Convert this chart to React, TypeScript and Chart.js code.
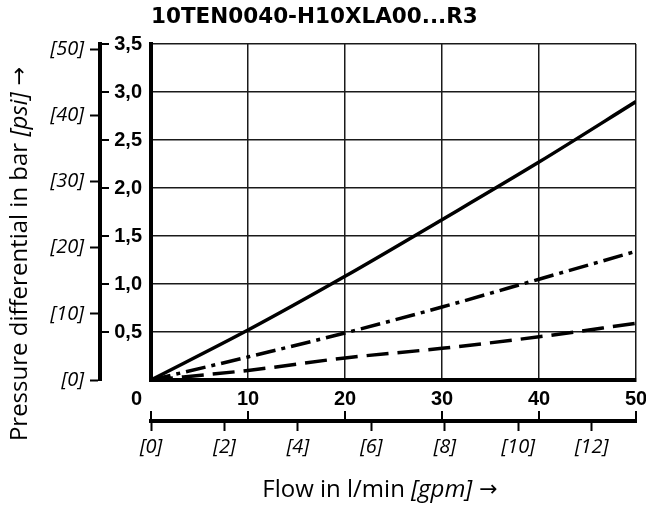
import React, { useEffect, useRef } from 'react';
import { Chart, registerables } from 'chart.js';

Chart.register(...registerables);

// ---- data ----
const CHART_TITLE = '10TEN0040-H10XLA00...R3';
const flowLpm = [0, 10, 20, 30, 40, 50];
const solidBar = [0, 0.52, 1.08, 1.67, 2.27, 2.9];
const dashDotBar = [0, 0.24, 0.49, 0.76, 1.05, 1.34];
const dashedBar = [0, 0.1, 0.23, 0.33, 0.45, 0.59];

const barTicks = [0, 0.5, 1, 1.5, 2, 2.5, 3, 3.5];
const psiTicks = [0, 10, 20, 30, 40, 50];
const lpmTicks = [0, 10, 20, 30, 40, 50];
const gpmTicks = [0, 2, 4, 6, 8, 10, 12];

const BAR_MAX = 3.5;
const LPM_MAX = 50;
const PSI_PER_BAR = 14.5038;
const LPM_PER_GPM = 3.78541;

const Y_TITLE = 'Pressure differential in bar ';
const Y_UNIT = '[psi]';
const X_TITLE = 'Flow in l/min ';
const X_UNIT = '[gpm]';
const ARROW = ' \u2192';

// ---- styles ----
const TICK_FONT = { family: '"Liberation Sans", Arial, sans-serif', size: 20, weight: 'bold' as const };
const TICK_FONT_CSS = 'bold 20px "Liberation Sans", Arial, sans-serif';
const ITAL_FONT = { family: '"Open Sans", sans-serif', size: 20, style: 'italic' as const };
const AXT_REG = '24px "Open Sans", sans-serif';
const AXT_IT = 'italic 24px "Open Sans", sans-serif';
const AXT_ARROW = '22px "DejaVu Sans", sans-serif';

const decorPlugin = {
  id: 'decor',
  afterDraw(chart: any) {
    const { ctx } = chart;
    const x = chart.scales.x;
    const y = chart.scales.y;
    const x2 = chart.scales.x2;
    const y2 = chart.scales.y2;
    ctx.save();
    ctx.strokeStyle = '#000';
    ctx.lineWidth = 2;
    ctx.beginPath();
    for (const v of barTicks) {
      if (v === 0) continue;
      const py = Math.round(y.getPixelForValue(v));
      ctx.moveTo(y2.right, py);
      ctx.lineTo(y2.right + 9, py);
    }
    for (const v of lpmTicks) {
      const px = Math.round(x.getPixelForValue(v));
      ctx.moveTo(px, x2.top);
      ctx.lineTo(px, x2.top - 10);
    }
    ctx.stroke();

    // shared origin label
    ctx.fillStyle = '#000';
    ctx.font = TICK_FONT_CSS;
    ctx.textAlign = 'right';
    ctx.textBaseline = 'middle';
    ctx.fillText(String(lpmTicks[0]), y.right - 9, x.top + 19);

    // x axis title
    ctx.textBaseline = 'alphabetic';
    ctx.textAlign = 'left';
    ctx.font = AXT_REG;
    const a1 = ctx.measureText(X_TITLE).width;
    ctx.font = AXT_ARROW;
    const a3 = ctx.measureText(ARROW).width;
    ctx.font = AXT_IT;
    const a2 = ctx.measureText(X_UNIT).width;
    const sx = 380 - (a1 + a2 + a3) / 2;
    const by = 497;
    ctx.font = AXT_REG;
    ctx.fillText(X_TITLE, sx, by);
    ctx.font = AXT_IT;
    ctx.fillText(X_UNIT, sx + a1, by);
    ctx.font = AXT_ARROW;
    ctx.fillText(ARROW, sx + a1 + a2, by - 1);

    // y axis title (rotated)
    ctx.save();
    ctx.translate(27, 254);
    ctx.rotate(-Math.PI / 2);
    ctx.font = AXT_REG;
    const b1 = ctx.measureText(Y_TITLE).width;
    ctx.font = AXT_ARROW;
    const b3 = ctx.measureText(ARROW).width;
    ctx.font = AXT_IT;
    const b2 = ctx.measureText(Y_UNIT).width;
    const s = -(b1 + b2 + b3) / 2;
    ctx.font = AXT_REG;
    ctx.fillText(Y_TITLE, s, 0);
    ctx.font = AXT_IT;
    ctx.fillText(Y_UNIT, s + b1, 0);
    ctx.font = AXT_ARROW;
    ctx.fillText(ARROW, s + b1 + b2, -1);
    ctx.restore();

    ctx.restore();
  },
};

const fmtBar = (v: number) => (v === 0 ? '' : v.toFixed(1).replace('.', ','));

export default function App() {
  const ref = useRef<HTMLCanvasElement | null>(null);

  useEffect(() => {
    if (!ref.current) return;
    const mk = (vals: number[]) => flowLpm.map((f, i) => ({ x: f, y: vals[i] }));
    const common = {
      borderColor: '#000',
      borderWidth: 3.5,
      pointRadius: 0,
      fill: false,
      cubicInterpolationMode: 'monotone' as const,
      xAxisID: 'x',
      yAxisID: 'y',
    };
    const chart = new Chart(ref.current, {
      type: 'line',
      data: {
        datasets: [
          { ...common, label: 'solid', data: mk(solidBar) },
          { ...common, label: 'dash-dot', data: mk(dashDotBar), borderDash: [20, 6, 4, 6] },
          { ...common, label: 'dashed', data: mk(dashedBar), borderDash: [22, 9] },
        ],
      },
      options: {
        responsive: false,
        animation: false,
        devicePixelRatio: 1,
        layout: { padding: { left: 0, right: 10, top: 0, bottom: 0 } },
        plugins: {
          legend: { display: false },
          tooltip: { enabled: false },
          title: {
            display: true,
            text: CHART_TITLE,
            align: 'start',
            fullSize: false,
            color: '#000',
            font: { family: '"DejaVu Sans", sans-serif', size: 21.5, weight: 'bold', lineHeight: '24px' },
            padding: { top: 5, bottom: 15 },
          },
        },
        scales: {
          x: {
            type: 'linear',
            position: 'bottom',
            weight: 0,
            min: 0,
            max: LPM_MAX,
            afterBuildTicks: (s: any) => { s.ticks = lpmTicks.map((v) => ({ value: v })); },
            afterFit: (s: any) => { s.height = 41; s.paddingLeft = 0; s.paddingRight = 0; },
            grid: { color: '#1a1a1a', lineWidth: 1.5, drawTicks: false },
            border: { display: true, color: '#000', width: 4 },
            ticks: {
              padding: 7,
              color: '#000',
              font: TICK_FONT,
              maxRotation: 0,
              autoSkip: false,
              callback: (v: any) => (v === 0 ? '' : String(v)),
            },
          },
          x2: {
            type: 'linear',
            position: 'bottom',
            weight: 1,
            min: 0,
            max: LPM_MAX / LPM_PER_GPM,
            afterBuildTicks: (s: any) => { s.ticks = gpmTicks.map((v) => ({ value: v })); },
            afterFit: (s: any) => { s.height = 86; s.paddingLeft = 0; s.paddingRight = 0; },
            grid: { drawOnChartArea: false, drawTicks: true, tickLength: 10, tickWidth: 2, tickColor: '#000' },
            border: { display: true, color: '#000', width: 4 },
            ticks: {
              padding: 4,
              color: '#000',
              font: ITAL_FONT,
              maxRotation: 0,
              autoSkip: false,
              callback: (v: any) => `[${v}]`,
            },
          },
          y: {
            type: 'linear',
            position: 'left',
            weight: 0,
            min: 0,
            max: BAR_MAX,
            afterBuildTicks: (s: any) => { s.ticks = barTicks.map((v) => ({ value: v })); },
            afterFit: (s: any) => { s.width = 51; },
            grid: { color: '#1a1a1a', lineWidth: 1.5, drawTicks: false },
            border: { display: true, color: '#000', width: 4 },
            ticks: { padding: 9, color: '#000', font: TICK_FONT, callback: (v: any) => fmtBar(v) },
          },
          y2: {
            type: 'linear',
            position: 'left',
            weight: 1,
            min: 0,
            max: BAR_MAX * PSI_PER_BAR,
            afterBuildTicks: (s: any) => { s.ticks = psiTicks.map((v) => ({ value: v })); },
            afterFit: (s: any) => { s.width = 100; },
            grid: { drawOnChartArea: false, drawTicks: true, tickLength: 10, tickWidth: 2, tickColor: '#000' },
            border: { display: true, color: '#000', width: 4 },
            ticks: { padding: 6, color: '#000', font: ITAL_FONT, callback: (v: any) => `[${v}]` },
          },
        },
      },
      plugins: [decorPlugin],
    });
    return () => chart.destroy();
  }, []);

  return (
    <div style={{ position: 'fixed', left: 0, top: 0, width: 646, height: 507, background: '#fff' }}>
      <canvas ref={ref} width={646} height={507} style={{ display: 'block' }} />
    </div>
  );
}
